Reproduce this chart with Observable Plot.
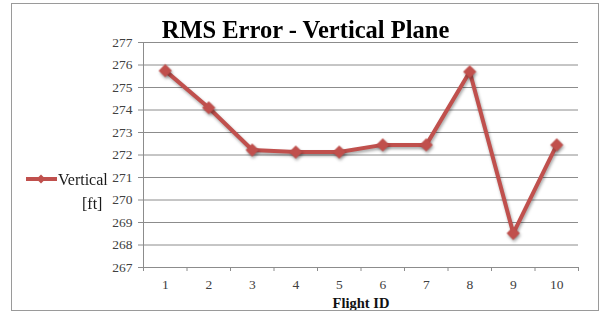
<!DOCTYPE html>
<html>
<head>
<meta charset="utf-8">
<script src="https://cdn.jsdelivr.net/npm/d3@7"></script>
<script src="https://cdn.jsdelivr.net/npm/@observablehq/plot@0.6"></script>
<style>
  html, body { margin: 0; padding: 0; background: #fff; }
  #wrap { position: relative; width: 601px; height: 313px; font-family: "Liberation Serif", "Times New Roman", serif; }
  #border { position: absolute; left: 11px; top: 3px; width: 586px; height: 306px; border: 1px solid #9a9a9a; box-sizing: content-box; pointer-events: none; }
  #title { position: absolute; left: 0; width: 611px; top: 15px; text-align: center; font-weight: bold; font-size: 24.5px; line-height: 30px; color: #000; }
  #legend { position: absolute; left: 26px; top: 171px; font-size: 16px; color: #1a1a1a; }
  #chart { position: absolute; left: 0; top: 0; }
</style>
</head>
<body>
<div id="wrap">
  <div id="chart"></div>
  <div id="border"></div>
  <div id="title">RMS Error - Vertical Plane</div>
  <div id="legend">
    <svg width="32" height="14" style="position:absolute;left:0;top:1px;overflow:visible">
      <line x1="0" y1="7" x2="31" y2="7" stroke="#c0504d" stroke-width="4"/>
      <path d="M15,2.5 L19.5,7 L15,11.5 L10.5,7 Z" fill="#c0504d"/>
    </svg>
    <div style="position:absolute;left:32px;top:0;white-space:nowrap">Vertical</div>
    <div style="position:absolute;left:56px;top:24px;white-space:nowrap">[ft]</div>
  </div>
</div>
<script>
const flights = [1, 2, 3, 4, 5, 6, 7, 8, 9, 10];
const vertical = [275.75, 274.1, 272.22, 272.13, 272.13, 272.45, 272.45, 275.7, 268.52, 272.45];
const yTicks = [267, 268, 269, 270, 271, 272, 273, 274, 275, 276, 277];
const xBoundaries = [0.5, 1.5, 2.5, 3.5, 4.5, 5.5, 6.5, 7.5, 8.5, 9.5, 10.5];

const data = flights.map((f, i) => ({flight: f, value: vertical[i]}));
const color = "#c0504d";

const plot = Plot.plot({
  width: 601,
  height: 313,
  marginLeft: 143,
  marginRight: 23,
  marginTop: 42,
  marginBottom: 46,
  style: {fontFamily: "Liberation Serif, Times New Roman, serif", fontSize: "13.5px", color: "#404040", background: "transparent"},
  x: {type: "linear", domain: [0.5, 10.5]},
  y: {domain: [267, 277]},
  marks: [
    Plot.gridY(yTicks, {stroke: "#8c8c8c", strokeOpacity: 1, strokeWidth: 1}),
    Plot.ruleX([0.5], {stroke: "#8c8c8c"}),
    Plot.ruleY([267], {stroke: "#8c8c8c"}),
    Plot.axisY(yTicks, {tickSize: 5, tickPadding: 6, stroke: "#8c8c8c", label: null, fill: "#404040"}),
    Plot.axisX(xBoundaries, {tickSize: 4, tickFormat: () => "", stroke: "#8c8c8c", label: null}),
    Plot.axisX(flights, {tickSize: 0, tickPadding: 12, label: null, fill: "#404040"}),
    Plot.line(data, {x: "flight", y: "value", stroke: color, strokeWidth: 4}),
    Plot.dot(data, {x: "flight", y: "value", symbol: "diamond2", r: 5, fill: color, stroke: color}),
    Plot.text(["Flight ID"], {frameAnchor: "bottom", dy: 40, fontWeight: "bold", fontSize: 14.5, fill: "#111"})
  ]
});
d3.select(plot).selectAll('[aria-label="line"], [aria-label="dot"]').style("filter", "drop-shadow(1px 2px 1.5px rgba(0,0,0,0.35))");
document.getElementById("chart").appendChild(plot);
</script>
</body>
</html>
